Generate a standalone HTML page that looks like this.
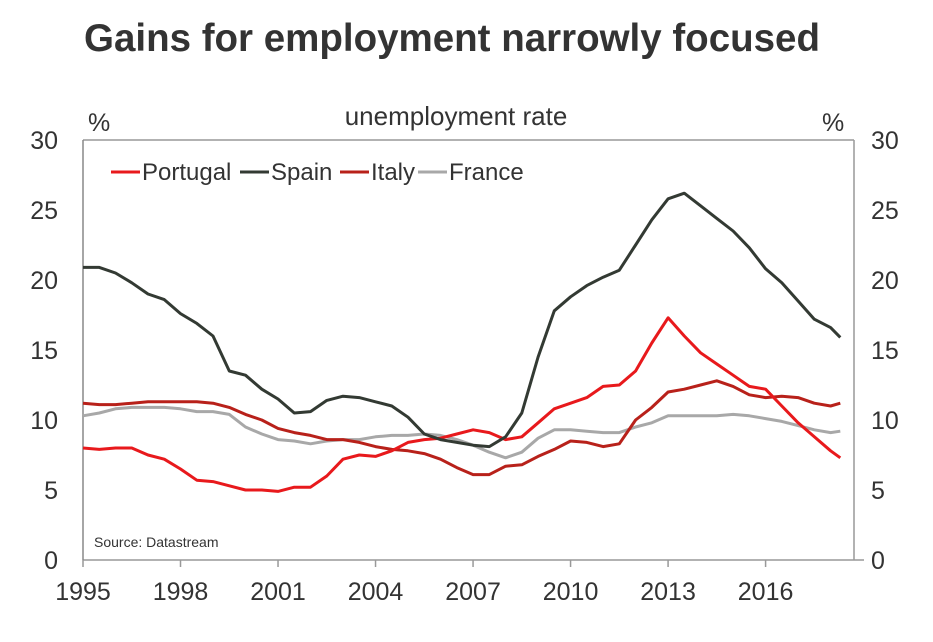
<!DOCTYPE html>
<html><head><meta charset="utf-8"><style>
html,body{margin:0;padding:0;background:#fff;}
body{width:933px;height:637px;overflow:hidden;font-family:"Liberation Sans",Arial,sans-serif;}
</style></head><body>
<svg id="chart" width="933" height="637" xmlns="http://www.w3.org/2000/svg" font-family="Liberation Sans, Arial, sans-serif">
<text x="452" y="51" text-anchor="middle" font-size="38.5" font-weight="bold" fill="#333">Gains for employment narrowly focused</text>
<text x="456" y="125" text-anchor="middle" font-size="26" fill="#333">unemployment rate</text>
<text x="88" y="131" font-size="25" fill="#333">%</text>
<text x="822" y="131" font-size="25" fill="#333">%</text>
<g id="axes"></g>
<g id="series"></g>
<g id="legend"></g>
<text x="94" y="547" font-size="14" fill="#333">Source: Datastream</text>
</svg>
<script>
const years = [1995,1995.5,1996,1996.5,1997,1997.5,1998,1998.5,1999,1999.5,2000,2000.5,2001,2001.5,2002,2002.5,2003,2003.5,2004,2004.5,2005,2005.5,2006,2006.5,2007,2007.5,2008,2008.5,2009,2009.5,2010,2010.5,2011,2011.5,2012,2012.5,2013,2013.5,2014,2014.5,2015,2015.5,2016,2016.5,2017,2017.5,2018,2018.3];
const portugal = [8.0,7.9,8.0,8.0,7.5,7.2,6.5,5.7,5.6,5.3,5.0,5.0,4.9,5.2,5.2,6.0,7.2,7.5,7.4,7.8,8.4,8.6,8.7,9.0,9.3,9.1,8.6,8.8,9.8,10.8,11.2,11.6,12.4,12.5,13.5,15.5,17.3,16.0,14.8,14.0,13.2,12.4,12.2,11.0,9.8,8.8,7.8,7.3];
const spain = [20.9,20.9,20.5,19.8,19.0,18.6,17.6,16.9,16.0,13.5,13.2,12.2,11.5,10.5,10.6,11.4,11.7,11.6,11.3,11.0,10.2,9.0,8.6,8.4,8.2,8.1,8.8,10.5,14.5,17.8,18.8,19.6,20.2,20.7,22.5,24.3,25.8,26.2,25.3,24.4,23.5,22.3,20.8,19.8,18.5,17.2,16.6,15.9];
const italy = [11.2,11.1,11.1,11.2,11.3,11.3,11.3,11.3,11.2,10.9,10.4,10.0,9.4,9.1,8.9,8.6,8.6,8.4,8.1,7.9,7.8,7.6,7.2,6.6,6.1,6.1,6.7,6.8,7.4,7.9,8.5,8.4,8.1,8.3,10.0,10.9,12.0,12.2,12.5,12.8,12.4,11.8,11.6,11.7,11.6,11.2,11.0,11.2];
const france = [10.3,10.5,10.8,10.9,10.9,10.9,10.8,10.6,10.6,10.4,9.5,9.0,8.6,8.5,8.3,8.5,8.6,8.6,8.8,8.9,8.9,9.0,8.9,8.6,8.2,7.7,7.3,7.7,8.7,9.3,9.3,9.2,9.1,9.1,9.5,9.8,10.3,10.3,10.3,10.3,10.4,10.3,10.1,9.9,9.6,9.3,9.1,9.2];
const yTicks = [0,5,10,15,20,25,30];
const xTicks = [1995,1998,2001,2004,2007,2010,2013,2016];
const seriesNames = ["Portugal","Spain","Italy","France"];

const NS="http://www.w3.org/2000/svg";
const L=83,R=854,T=140,B=560;
const x=yr=>L+(yr-1995)*(R-L)/(2018.72-1995);
const y=v=>B-v*(B-T)/30;
function mk(tag,attrs,parent){const e=document.createElementNS(NS,tag);for(const k in attrs)e.setAttribute(k,attrs[k]);parent.appendChild(e);return e;}
const axes=document.getElementById('axes');
let e;
e=mk('line',{x1:L,y1:T,x2:R,y2:T,stroke:'#999','stroke-width':1.5},axes);


e=mk('line',{x1:L,y1:B,x2:R+10,y2:B,stroke:'#999','stroke-width':1.5},axes);


e=mk('line',{x1:L,y1:T,x2:L,y2:B,stroke:'#888','stroke-width':1.5},axes);


e=mk('line',{x1:R,y1:T,x2:R,y2:B,stroke:'#999','stroke-width':1.5},axes);


yTicks.forEach(v=>{
  let t=mk('text',{x:58,y:y(v)+9,'text-anchor':'end','font-size':25,fill:'#333'},axes);t.textContent=v;
  
  
  t=mk('text',{x:871,y:y(v)+9,'text-anchor':'start','font-size':25,fill:'#333'},axes);t.textContent=v;
  
  
});
xTicks.forEach(yr=>{
  let l=mk('line',{x1:x(yr),y1:B,x2:x(yr),y2:B+7,stroke:'#999','stroke-width':1.5},axes);
  
  
  let t=mk('text',{x:x(yr),y:B+40,'text-anchor':'middle','font-size':25,fill:'#333'},axes);t.textContent=yr;
  
  
});
const colors={Portugal:'#e8191c',Spain:'#333a33',Italy:'#b8211a',France:'#a8a8a8'};
const data={Portugal:portugal,Spain:spain,Italy:italy,France:france};
const sg=document.getElementById('series');
["France","Italy","Portugal","Spain"].forEach(n=>{
  const d=data[n].map((v,i)=>(i?'L':'M')+x(years[i]).toFixed(1)+','+y(v).toFixed(1)).join('');
  const p=mk('path',{d:d,fill:'none',stroke:colors[n],'stroke-width':3,'stroke-linejoin':'round'},sg);
  
  
});
const lg=document.getElementById('legend');
const lx=[111,240,340,418];
seriesNames.forEach((n,i)=>{
  const g=mk('g',{},lg);
  
  
  mk('line',{x1:lx[i],y1:172,x2:lx[i]+29,y2:172,stroke:colors[n],'stroke-width':3},g);
  const t=mk('text',{x:lx[i]+31,y:180,'font-size':24,fill:'#333'},g);t.textContent=n;
});
</script>
</body></html>
